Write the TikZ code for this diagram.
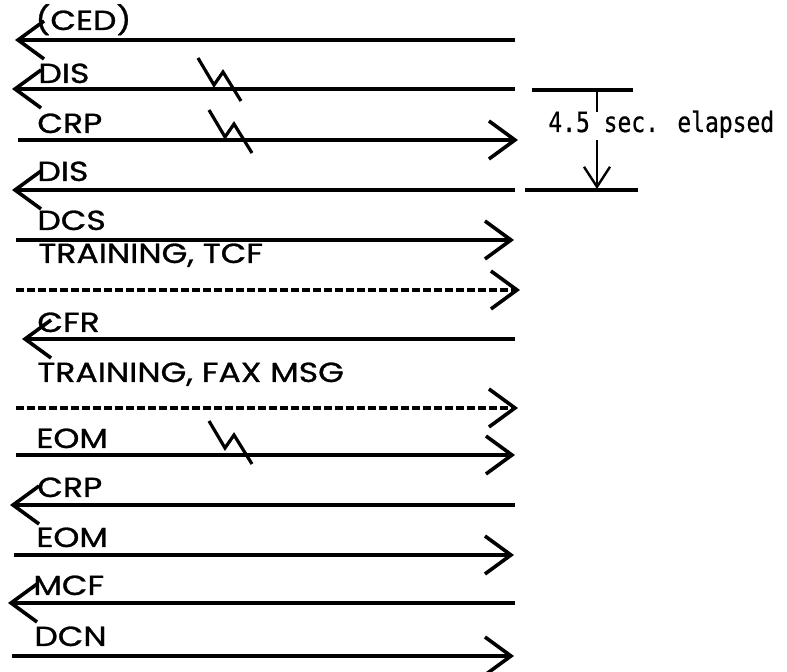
\documentclass[tikz,border=0pt]{standalone}
\usepackage{fontspec}
\newfontfamily\lblfont[FakeStretch=1.2,FakeBold=1]{Poppins}
\newfontfamily\notefont[FakeStretch=0.82,FakeBold=0.6]{DejaVu Sans Mono}
\usetikzlibrary{arrows.meta}

\tikzset{
  chev/.tip={Straight Barb[length=13pt,width=19pt]},
  msg/.style={line width=1.8pt,-chev},
  trn/.style={msg,dash pattern=on 4pt off 1.5pt},
  lbl/.style={anchor=base west,inner sep=0pt,font=\lblfont\fontsize{13.8}{15}\selectfont},
  brk/.pic={\draw[line width=1.6pt] (0,0) -- (16,27) -- (25,14) -- (43,43);}
}

\begin{document}
\begin{tikzpicture}[x=0.5pt,y=-0.5pt]
  \useasboundingbox (0,0) rectangle (787,672);

  % ends of the messages
  \coordinate (cedL) at (15,40);   \coordinate (cedR) at (515,40);
  \coordinate (dis1L) at (12,89);  \coordinate (dis1R) at (515,89);
  \coordinate (crp1L) at (18,140); \coordinate (crp1R) at (518,140);
  \coordinate (dis2L) at (12,190); \coordinate (dis2R) at (515,190);
  \coordinate (dcsL) at (16,240);  \coordinate (dcsR) at (514,240);
  \coordinate (tcfL) at (16,290);  \coordinate (tcfR) at (520,290);
  \coordinate (cfrL) at (22,339);  \coordinate (cfrR) at (515,339);
  \coordinate (faxL) at (16,408);  \coordinate (faxR) at (518,408);
  \coordinate (eom1L) at (16,455); \coordinate (eom1R) at (515,455);
  \coordinate (crp2L) at (10,505); \coordinate (crp2R) at (515,505);
  \coordinate (eom2L) at (14,555); \coordinate (eom2R) at (514,555);
  \coordinate (mcfL) at (8,603);   \coordinate (mcfR) at (515,603);
  \coordinate (dcnL) at (12,656);  \coordinate (dcnR) at (514,656);

  \node[lbl] (ced) at (35,30) {(CED)};
  \node[lbl] (dis1) at (38,83) {DIS};
  \node[lbl] (crp1) at (37,133) {CRP};
  \node[lbl] (dis2) at (37,181) {DIS};
  \node[lbl] (dcs) at (37,230) {DCS};
  \node[lbl] (tcf) at (38,263) {TRAINING, TCF};
  \node[lbl] (cfr) at (37,332) {CFR};
  \node[lbl] (fax) at (37,382) {TRAINING, FAX MSG};
  \node[lbl] (eom1) at (36,448) {EOM};
  \node[lbl] (crp2) at (37,497) {CRP};
  \node[lbl] (eom2) at (36,547) {EOM};
  \node[lbl] (mcf) at (33,595) {MCF};
  \node[lbl] (dcn) at (34,646) {DCN};

  \draw[msg] (cedR) -- (cedL);
  \draw[msg] (dis1R) -- (dis1L);
  \draw[msg] (crp1L) -- (crp1R);
  \draw[msg] (dis2R) -- (dis2L);
  \draw[msg] (dcsL) -- (dcsR);
  \draw[trn] (tcfL) -- (tcfR);
  \draw[msg] (cfrR) -- (cfrL);
  \draw[trn] (faxL) -- (faxR);
  \draw[msg] (eom1L) -- (eom1R);
  \draw[msg] (crp2R) -- (crp2L);
  \draw[msg] (eom2L) -- (eom2R);
  \draw[msg] (mcfR) -- (mcfL);
  \draw[msg] (dcnL) -- (dcnR);

  % lost frames
  \pic at (198,58) {brk};
  \pic at (209,110) {brk};
  \pic at (209,421) {brk};

  % timer
  \coordinate (tA) at (532,90);  \coordinate (tB) at (633,90);
  \coordinate (tC) at (525,190); \coordinate (tD) at (638,190);
  \coordinate (tTop) at (597,90); \coordinate (tTick) at (597,112);
  \coordinate (tArr) at (597,140); \coordinate (tEnd) at (597,189);
  \draw[line width=1.6pt] (tA) -- (tB);
  \draw[line width=1.6pt] (tC) -- (tD);
  \draw[line width=1.2pt] (tTop) -- (tTick);
  \draw[line width=1.2pt,-{Straight Barb[length=10pt,width=13pt]}] (tArr) -- (tEnd);
  \node[anchor=base west,inner sep=0pt,font=\notefont\fontsize{14}{16}\selectfont] (elapsed) at (548,132) {4.5 sec. elapsed};
\end{tikzpicture}
\end{document}
